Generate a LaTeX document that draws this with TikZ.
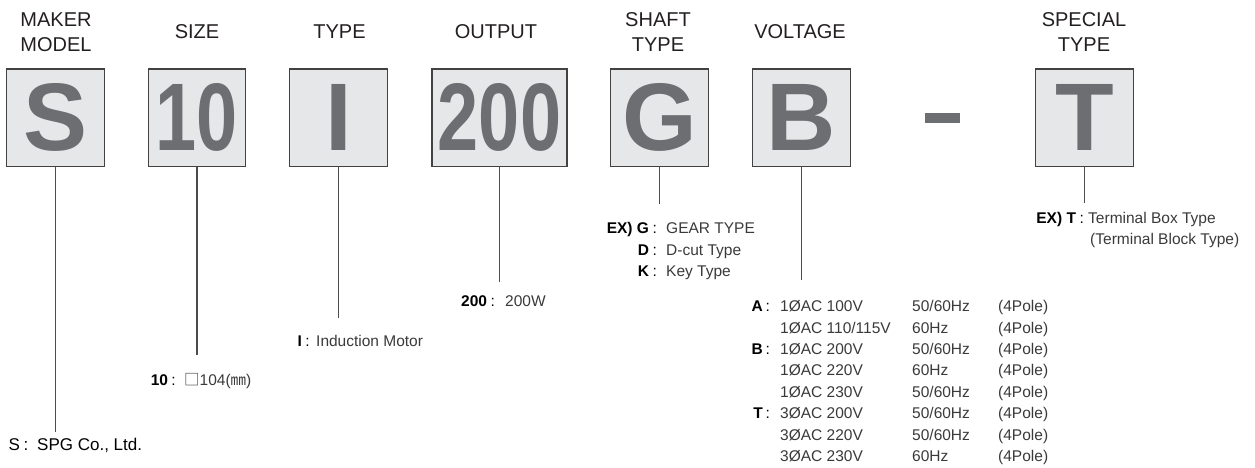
\documentclass[tikz,border=0pt]{standalone}
\usepackage{fontspec}
\usepackage{graphicx}
\setmainfont{Liberation Sans}
\newfontfamily\cjk{Noto Sans CJK KR}
\usetikzlibrary{positioning}
\definecolor{boxfill}{HTML}{E6E7E8}
\definecolor{markgray}{HTML}{6D6E71}
\definecolor{inkdark}{HTML}{231F20}
\definecolor{descgray}{HTML}{3A3A3A}
\newcommand{\digs}[1]{\scalebox{0.77}[1]{#1}}
\newcommand{\keycolon}{\hspace{3.5pt}:}
\tikzset{codebox/.style={draw=inkdark!85,line width=1.3pt,fill=boxfill,
      minimum width=97.5pt,minimum height=97.5pt,inner sep=0pt,
      text=markgray,font=\fontsize{96}{96}\selectfont\bfseries},
    title/.style={align=center,inner sep=0pt,text=inkdark,
      font=\fontsize{20}{25}\selectfont},
    key/.style={anchor=base east,inner sep=0pt,text=black,
      font=\fontsize{15.5}{18}\selectfont},
    val/.style={anchor=base west,inner sep=0pt,text=descgray,
      font=\fontsize{15.5}{18}\selectfont},
    lead/.style={draw=black!70,line width=1.1pt}}

\begin{document}
\begin{tikzpicture}[x=1pt,y=-1pt]
\useasboundingbox (0,0) rectangle (1255,468);

% code boxes
\node[codebox] (bS) at (55.5,117.75) {S};
\node[codebox] (b10) at (197,117.75) {\digs{10}};
\node[codebox] (bI) at (338.5,117.75) {I};
\node[codebox,minimum width=135pt] (b200) at (499.5,117.75) {\digs{200}};
\node[codebox] (bG) at (659.5,117.75) {G};
\node[codebox] (bB) at (801.5,117.75) {B};
\node[fill=markgray,inner sep=0pt,minimum width=35pt,minimum height=10pt] (dash) at (942.5,118) {};
\node[codebox] (bT) at (1084.5,117.75) {T};

% titles
\node[title] (tS) at (56,32) {MAKER\\MODEL};
\node[title] (t10) at (197,32) {SIZE};
\node[title] (tI) at (339.5,32) {TYPE};
\node[title] (t200) at (496,32) {OUTPUT};
\node[title] (tG) at (658,32) {SHAFT\\TYPE};
\node[title] (tB) at (800,32) {VOLTAGE};
\node[title] (tT) at (1084,32) {SPECIAL\\TYPE};

% leader lines
\coordinate (eS) at (55.5,432);
\coordinate (e10) at (197.5,355);
\coordinate (eI) at (338.5,318);
\coordinate (e200) at (499.5,282);
\coordinate (eG) at (659.5,204);
\coordinate (eB) at (801.5,280);
\coordinate (eT) at (1084.5,203);
\foreach \b in {S,10,I,200,G,B,T}
  \draw[lead] (b\b.south |- e\b) -- (b\b);

% maker
\node[key,font=\fontsize{17}{20}\selectfont] (kS) at (28.5,450) {S\keycolon};
\node[val,text=black,font=\fontsize{17}{20}\selectfont] (vS) at (37,450) {SPG Co., Ltd.};
% size
\node[key] (k10) at (176,385) {\textbf{10}\keycolon};
\node[val] (v10) at (184,385) {{\cjk □}104({\cjk ㎜})};
% type
\node[key] (kI) at (310,346.7) {\textbf{I}\keycolon};
\node[val] (vI) at (316,346.7) {Induction Motor};
% output
\node[key] (k200) at (495,306.7) {\textbf{200}\keycolon};
\node[val] (v200) at (505,306.7) {200W};
% shaft
\node[key] (kG) at (657,233.3) {\textbf{EX) G}\keycolon};
\node[val] (vG) at (666,233.3) {GEAR TYPE};
\node[key] (kD) at (657,255) {\textbf{D}\keycolon};
\node[val] (vD) at (666,255) {D-cut Type};
\node[key] (kK) at (657,276) {\textbf{K}\keycolon};
\node[val] (vK) at (666,276) {Key Type};
% special
\node[key] (kT) at (1084,223) {\textbf{EX) T}\keycolon};
\node[val] (vT) at (1088,223) {Terminal Box Type};
\node[val] (vT2) at (1090,244) {(Terminal Block Type)};
% voltage
\node[key] (kA) at (770,311.7) {\textbf{A}\,:};
\node[key] (kB) at (770,354.6) {\textbf{B}\,:};
\node[key] (kTT) at (770,418.9) {\textbf{T}\,:};
\foreach \v/\hz [count=\i from 0] in {{1ØAC 100V}/{50/60Hz},{1ØAC 110/115V}/{60Hz},
    {1ØAC 200V}/{50/60Hz},{1ØAC 220V}/{60Hz},{1ØAC 230V}/{50/60Hz},
    {3ØAC 200V}/{50/60Hz},{3ØAC 220V}/{50/60Hz},{3ØAC 230V}/{60Hz}}{
  \node[val] (volt\i) at (780,311.7+21.43*\i) {\v};
  \node[val] (hz\i) at (912,311.7+21.43*\i) {\hz};
  \node[val] (pole\i) at (998,311.7+21.43*\i) {(4Pole)};
}
\end{tikzpicture}
\end{document}
